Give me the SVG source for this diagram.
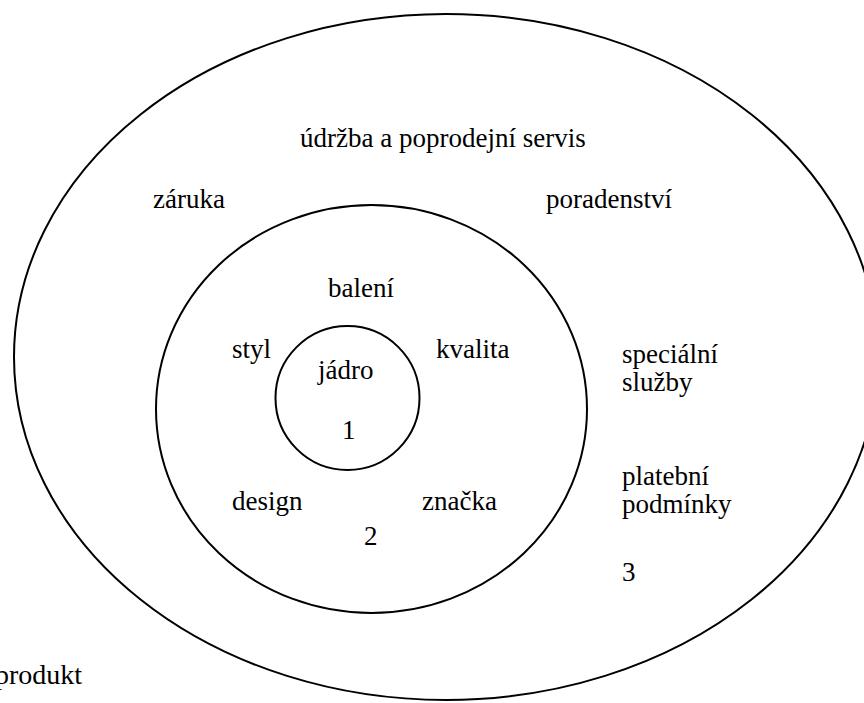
<svg xmlns="http://www.w3.org/2000/svg" width="864" height="703" viewBox="0 0 864 703">
<rect width="864" height="703" fill="#fff"/>
<ellipse cx="446" cy="357" rx="432" ry="343" fill="none" stroke="#000" stroke-width="2"/>
<ellipse cx="371.5" cy="409" rx="215.5" ry="204" fill="none" stroke="#000" stroke-width="2"/>
<circle cx="347.5" cy="398" r="72" fill="none" stroke="#000" stroke-width="2"/>
<text x="300" y="147" font-size="27" font-family="Liberation Serif">údržba a poprodejní servis</text>
<text x="153" y="208" font-size="27" font-family="Liberation Serif">záruka</text>
<text x="546" y="208" font-size="27" font-family="Liberation Serif">poradenství</text>
<text x="622" y="363" font-size="27" font-family="Liberation Serif">speciální</text>
<text x="622" y="391" font-size="27" font-family="Liberation Serif">služby</text>
<text x="622" y="485" font-size="27" font-family="Liberation Serif">platební</text>
<text x="622" y="513" font-size="27" font-family="Liberation Serif">podmínky</text>
<text x="622" y="581" font-size="27" font-family="Liberation Serif">3</text>
<text x="328" y="297" font-size="27" font-family="Liberation Serif">balení</text>
<text x="232" y="358" font-size="27" font-family="Liberation Serif">styl</text>
<text x="436" y="358" font-size="27" font-family="Liberation Serif">kvalita</text>
<text x="232" y="510" font-size="27" font-family="Liberation Serif">design</text>
<text x="422" y="510" font-size="27" font-family="Liberation Serif">značka</text>
<text x="364" y="545" font-size="27" font-family="Liberation Serif">2</text>
<text x="318" y="379" font-size="27" font-family="Liberation Serif">jádro</text>
<text x="342" y="439" font-size="27" font-family="Liberation Serif">1</text>
<text x="-5" y="684" font-size="28" font-family="Liberation Serif">produkt</text>
</svg>
